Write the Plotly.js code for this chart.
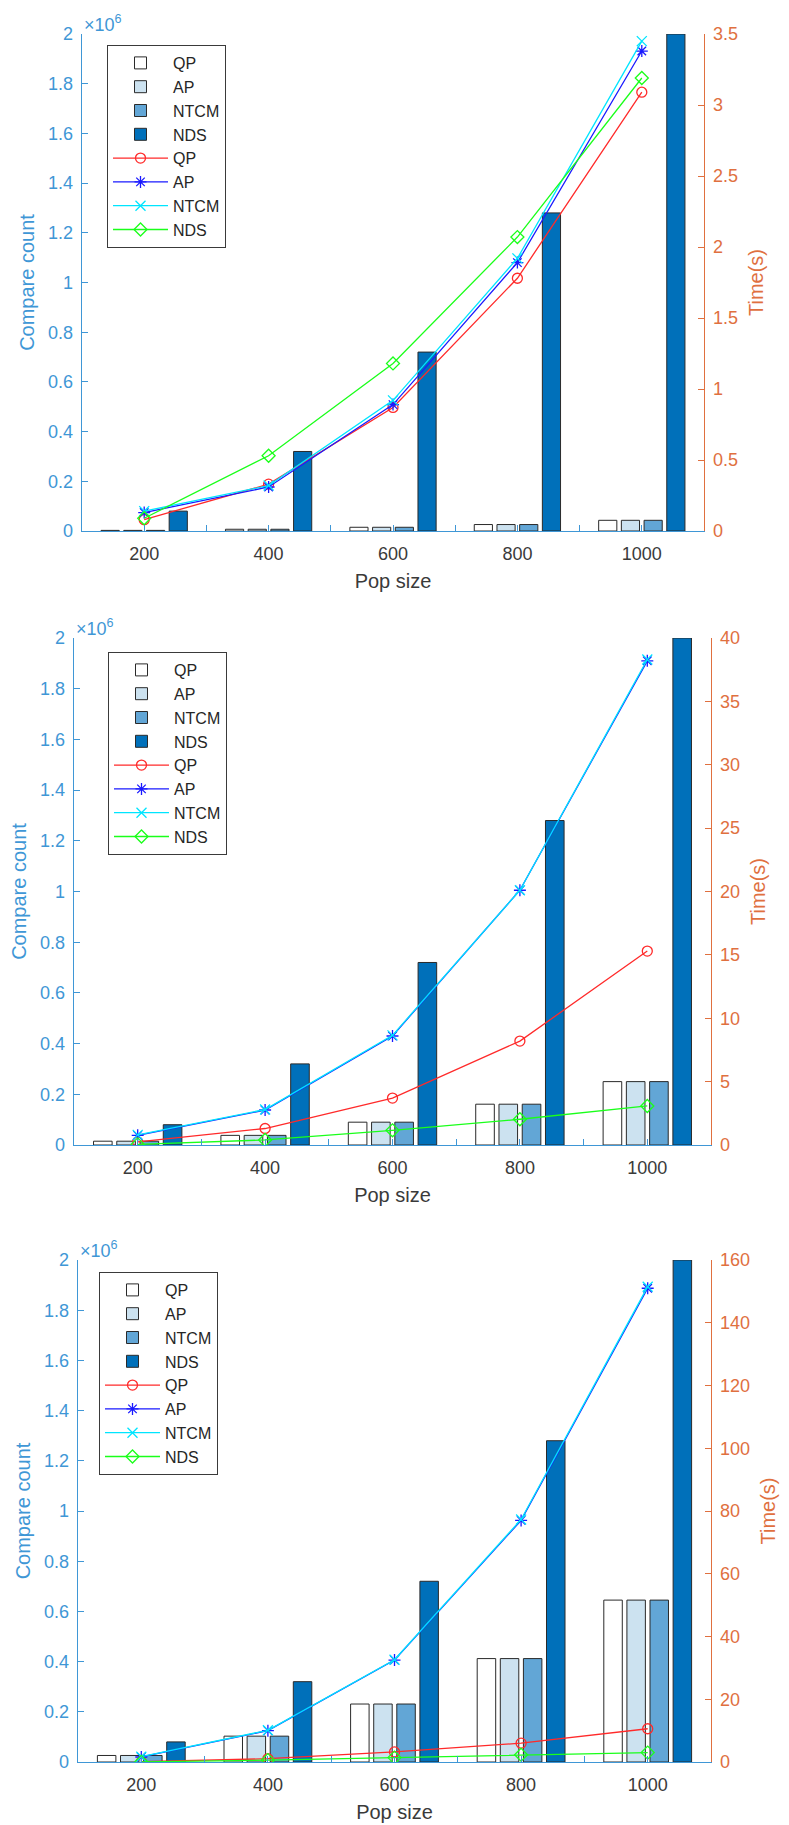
<!DOCTYPE html>
<html><head><meta charset="utf-8">
<script src="https://cdn.plot.ly/plotly-3.0.1.min.js"></script>
<style>html,body{margin:0;padding:0;background:#fff}#chart{width:789px;height:1825px}</style>
</head><body><div id="chart"></div>
<script>
// ---------- data ----------
const popSize = [200, 400, 600, 800, 1000];
const popTickText = ['200', '400', '600', '800', '1000'];
const seriesNames = ['QP', 'AP', 'NTCM', 'NDS'];
const countTickVals = [0, 200000, 400000, 600000, 800000, 1000000, 1200000, 1400000, 1600000, 1800000, 2000000];
const countTickText = ['0', '0.2', '0.4', '0.6', '0.8', '1', '1.2', '1.4', '1.6', '1.8', '2'];

// panel 1
const count1QP   = [2500, 7000, 15000, 26000, 43000];
const count1AP   = [2500, 7000, 15000, 26000, 43000];
const count1NTCM = [2500, 7000, 15000, 26000, 43000];
const count1NDS  = [80000, 320000, 720000, 1280000, 2000000];
const time1QP    = [0.08, 0.33, 0.87, 1.78, 3.09];
const time1AP    = [0.13, 0.31, 0.89, 1.89, 3.38];
const time1NTCM  = [0.14, 0.32, 0.92, 1.92, 3.45];
const time1NDS   = [0.09, 0.53, 1.18, 2.07, 3.19];
const time1Ticks = [0, 0.5, 1, 1.5, 2, 2.5, 3, 3.5];

// panel 2
const count2QP   = [15000, 38000, 90000, 161000, 250000];
const count2AP   = [15000, 38000, 90000, 161000, 250000];
const count2NTCM = [15000, 38000, 90000, 161000, 250000];
const count2NDS  = [80000, 320000, 720000, 1280000, 2000000];
const time2QP    = [0.25, 1.3, 3.7, 8.2, 15.3];
const time2AP    = [0.76, 2.76, 8.6, 20.1, 38.2];
const time2NTCM  = [0.8, 2.8, 8.65, 20.1, 38.3];
const time2NDS   = [0.05, 0.4, 1.16, 2.03, 3.08];
const time2Ticks = [0, 5, 10, 15, 20, 25, 30, 35, 40];

// panel 3
const count3QP   = [26000, 103000, 231000, 412000, 645000];
const count3AP   = [26000, 103000, 231000, 412000, 645000];
const count3NTCM = [26000, 103000, 231000, 412000, 645000];
const count3NDS  = [80000, 320000, 720000, 1280000, 2000000];
const time3QP    = [0.1, 1.05, 3.2, 6.0, 10.6];
const time3AP    = [1.6, 10.0, 32.5, 77, 151];
const time3NTCM  = [1.7, 10.1, 32.6, 77.3, 151.5];
const time3NDS   = [0.05, 0.6, 1.4, 2.3, 3.0];
const time3Ticks = [0, 20, 40, 60, 80, 100, 120, 140, 160];

// ---------- styles ----------
const W = 789, H = 1825;
const FONT = '"Liberation Sans", Arial, Helvetica, sans-serif';
const BLUE_AX = '#3f97d6';
const ORANGE_AX = '#e0703f';
const TXT = '#262626';
const barColors = ['#ffffff', '#cce2f0', '#62a6d6', '#0070ba'];
const lineColors = ['#ff2a2a', '#1a1aff', '#00e5ff', '#1aff1a'];
const markerSymbols = ['circle-open', 'asterisk-open', 'x-thin-open', 'diamond-open'];

const panels = [
  {counts: [count1QP, count1AP, count1NTCM, count1NDS], times: [time1QP, time1AP, time1NTCM, time1NDS], tticks: time1Ticks,
   px: {l: 82, r: 704, t: 34, b: 531}, leg: {x: 107, y: 45}},
  {counts: [count2QP, count2AP, count2NTCM, count2NDS], times: [time2QP, time2AP, time2NTCM, time2NDS], tticks: time2Ticks,
   px: {l: 74, r: 711, t: 638, b: 1145}, leg: {x: 108, y: 652}},
  {counts: [count3QP, count3AP, count3NTCM, count3NDS], times: [time3QP, time3AP, time3NTCM, time3NDS], tticks: time3Ticks,
   px: {l: 78, r: 711, t: 1260, b: 1762}, leg: {x: 99, y: 1272}}
];

const data = [];
const layout = {
  width: W, height: H,
  margin: {l: 0, r: 0, t: 0, b: 0},
  paper_bgcolor: '#ffffff', plot_bgcolor: 'rgba(0,0,0,0)',
  font: {family: FONT, color: TXT},
  barmode: 'group', bargap: 0.27, bargroupgap: 0.2,
  annotations: []
};

panels.forEach((p, i) => {
  const k = i + 1;
  const xa = k === 1 ? 'x' : 'x' + k;
  const yl = k === 1 ? 'y' : 'y' + (2 * k - 1);
  const yr = 'y' + (2 * k);
  const leg = k === 1 ? 'legend' : 'legend' + k;

  seriesNames.forEach((name, j) => {
    data.push({
      type: 'bar', name: name, x: popSize, y: p.counts[j],
      xaxis: xa, yaxis: yl, legend: leg,
      marker: {color: barColors[j], line: {color: '#2a2a2a', width: 1}}
    });
  });
  seriesNames.forEach((name, j) => {
    data.push({
      type: 'scatter', mode: 'lines+markers', name: name, x: popSize, y: p.times[j],
      xaxis: xa, yaxis: yr, legend: leg,
      line: {color: lineColors[j], width: 1.3},
      marker: {symbol: markerSymbols[j], size: 10, color: lineColors[j], line: {color: lineColors[j], width: 1.3}}
    });
  });

  const xDom = [p.px.l / W, p.px.r / W];
  const yDom = [(H - p.px.b) / H, (H - p.px.t) / H];
  const xKey = k === 1 ? 'xaxis' : 'xaxis' + k;
  const ylKey = k === 1 ? 'yaxis' : 'yaxis' + (2 * k - 1);
  const yrKey = 'yaxis' + (2 * k);

  layout[xKey] = {
    domain: xDom, anchor: yl, range: [100, 1100],
    tickvals: popSize, ticktext: popTickText,
    ticks: 'inside', ticklen: 6, tickcolor: BLUE_AX, tickwidth: 1,
    minor: {dtick: 100, tick0: 100, ticks: 'inside', ticklen: 6, tickcolor: BLUE_AX, tickwidth: 1},
    showline: true, linecolor: BLUE_AX, linewidth: 1.3,
    showgrid: false, zeroline: false,
    tickfont: {size: 18, color: '#3a3a3a', family: FONT},
    ticklabelstandoff: 6,
    title: {text: 'Pop size', font: {size: 20, color: '#3a3a3a', family: FONT}, standoff: 11}
  };
  layout[ylKey] = {
    domain: yDom, anchor: xa, range: [0, 2000000],
    tickvals: countTickVals, ticktext: countTickText,
    ticks: 'inside', ticklen: 6, tickcolor: BLUE_AX,
    showline: true, linecolor: BLUE_AX, linewidth: 1.3,
    showgrid: false, zeroline: false,
    tickfont: {size: 18, color: BLUE_AX, family: FONT},
    ticklabelstandoff: 4,
    title: {text: 'Compare count', font: {size: 20, color: BLUE_AX, family: FONT}, standoff: 8}
  };
  layout[yrKey] = {
    overlaying: yl, side: 'right', anchor: xa, range: [0, p.tticks[p.tticks.length - 1]],
    tickvals: p.tticks,
    ticks: 'inside', ticklen: 6, tickcolor: ORANGE_AX,
    showline: true, linecolor: ORANGE_AX, linewidth: 1.3,
    showgrid: false, zeroline: false,
    tickfont: {size: 18, color: ORANGE_AX, family: FONT},
    ticklabelstandoff: 4,
    title: {text: 'Time(s)', font: {size: 20, color: ORANGE_AX, family: FONT}, standoff: 12}
  };
  layout[leg] = {
    x: p.leg.x / W, y: (H - p.leg.y) / H, xanchor: 'left', yanchor: 'top',
    xref: 'paper', yref: 'paper',
    bgcolor: '#ffffff', bordercolor: '#3a3a3a', borderwidth: 1,
    font: {size: 16, color: TXT, family: FONT},
    itemwidth: 55, traceorder: 'normal', tracegroupgap: 0
  };
  layout.annotations.push({
    xref: 'paper', yref: 'paper', x: p.px.l / W, y: (H - p.px.t) / H,
    xanchor: 'left', yanchor: 'bottom', yshift: -3, showarrow: false,
    text: '\u00d710<sup>6</sup>', font: {size: 18, color: BLUE_AX, family: FONT}
  });
});

Plotly.newPlot('chart', data, layout, {staticPlot: true, displayModeBar: false});
</script>
</body></html>
